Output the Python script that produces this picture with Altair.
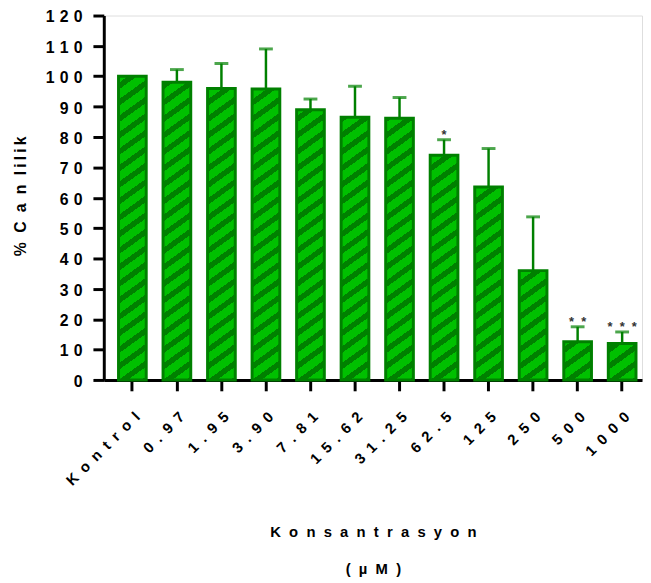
import math
import altair as alt
import pandas as pd

# ---- data ----
categories = ["Kontrol", "0.97", "1.95", "3.90", "7.81", "15.62", "31.25",
              "62.5", "125", "250", "500", "1000"]
means = [100, 98, 96, 95.8, 89, 86.5, 86.2, 74, 63.5, 36, 12.6, 12]
upper = [100, 102.2, 104.2, 109, 92.5, 96.7, 93, 79.1, 76.2, 53.7, 17.5, 15.8]
stars = ["", "", "", "", "", "", "", "*", "", "", "*\u00a0\u00a0*", "*\u00a0\u00a0*\u00a0\u00a0*"]

# ---- style / geometry ----
W, H = 545, 369
YMAX = 120
PX = H / YMAX
PAD_IN, PAD_OUT = 0.378, 0.233
STEP = W / (len(categories) - PAD_IN + 2 * PAD_OUT)
BAR_W = STEP * (1 - PAD_IN)
LIGHT = "#00c000"
DARK = "#008000"
PV = 16.7        # vertical stripe period (px)
SLOPE = 0.72     # stripe rise per run
DARK_FRAC = 0.4
FONT = "Liberation Sans"
SP2 = "\u00a0\u00a0"
WIDE = "\u2002\u200a"
NARROW = "\u2009"


def spaced(s, sep):
    return sep.join(list(s))


def stripe_gradient(value):
    h = value * PX
    w = BAR_W
    m = SLOPE
    S = m * w + h
    t = S / ((m * w) ** 2 + h ** 2)

    def color_at(s):
        q = ((s - h) / PV) % 1.0
        return DARK if q < DARK_FRAC else LIGHT

    stops = [{"offset": 0, "color": color_at(0)}]
    bounds = []
    kmin = math.floor(-h / PV) - 1
    kmax = math.ceil((S - h) / PV) + 1
    for k in range(kmin, kmax + 1):
        for frac in (0.0, DARK_FRAC):
            s = h + (k + frac) * PV
            if 0 < s < S:
                bounds.append(s)
    bounds.sort()
    for s in bounds:
        off = round(s / S, 5)
        stops.append({"offset": off, "color": color_at(s - 1e-6)})
        stops.append({"offset": off, "color": color_at(s + 1e-6)})
    stops.append({"offset": 1, "color": color_at(S)})
    return {"gradient": "linear", "x1": 0, "y1": 0,
            "x2": t * m * w, "y2": t * h, "stops": stops}


df = pd.DataFrame({
    "cat": categories,
    "mean": means,
    "upper": upper,
    "star": stars,
})
df["grad"] = [stripe_gradient(v) for v in means]

ytitle = "%" + WIDE + "C" + WIDE + "a" + WIDE + "n" + WIDE + spaced("lilik", NARROW)

xaxis = alt.Axis(
    title=[spaced("Konsantrasyon", SP2), spaced("(µM)", SP2)],
    titleFont=FONT, titleFontSize=15, titleFontWeight="bold", titleColor="black",
    titleX=W / 2, titleY=159, titleAlign="center", titleBaseline="alphabetic",
    titleLineHeight=37, titleAngle=0,
    labelAngle=-45, labelAlign="right", labelBaseline="middle",
    labelFont=FONT, labelFontSize=15, labelFontWeight="bold", labelColor="black",
    labelPadding=23.5, labelOffset=5, labelOverlap=False,
    labelExpr="join(split(datum.label, ''), '\u2002')",
    domainColor="black", domainWidth=3,
    tickColor="black", tickWidth=3, tickSize=11,
    grid=False,
)
yaxis = alt.Axis(
    title=ytitle,
    titleFont=FONT, titleFontSize=16, titleFontWeight="bold", titleColor="black",
    titleX=-84, titleY=H / 2 - 2, titleAngle=270, titleAlign="center",
    titleBaseline="middle",
    values=list(range(0, 121, 10)),
    labelFont=FONT, labelFontSize=16, labelFontWeight="bold", labelColor="black",
    labelPadding=11, labelBaseline="middle", labelOffset=1.5, labelOverlap=False,
    labelFlush=False,
    labelExpr="join(split(datum.label, ''), '\u2004')",
    domainColor="black", domainWidth=3,
    tickColor="black", tickWidth=3, tickSize=11,
    grid=False,
)

xenc = alt.X(
    "cat:N", sort=categories,
    scale=alt.Scale(paddingInner=PAD_IN, paddingOuter=PAD_OUT, align=0.71),
    axis=xaxis,
)
yscale = alt.Scale(domain=[0, YMAX], nice=False, zero=True)

bars = alt.Chart(df).mark_bar(stroke=DARK, strokeWidth=3).encode(
    x=xenc,
    y=alt.Y("mean:Q", scale=yscale, stack=None, axis=yaxis),
    fill=alt.Fill("grad:N", scale=None),
)

err_base = alt.Chart(df).transform_filter("datum.upper > datum.mean")

err_rule = err_base.mark_rule(color=DARK, strokeWidth=2.5).encode(
    x=xenc,
    y=alt.Y("mean:Q", scale=yscale, axis=yaxis),
    y2="upper:Q",
)
err_cap = err_base.mark_tick(color=DARK, thickness=3, size=14, orient="horizontal").encode(
    x=xenc,
    y=alt.Y("upper:Q", scale=yscale, axis=yaxis),
)
star_text = alt.Chart(df).transform_filter("datum.star != ''").mark_text(
    font=FONT, fontSize=13, fontWeight="bold", color="#333333",
    baseline="alphabetic", dy=-1,
).encode(
    x=xenc,
    y=alt.Y("upper:Q", scale=yscale, axis=yaxis),
    text="star:N",
)

chart = alt.layer(err_rule, err_cap, bars, star_text).properties(
    width=W, height=H,
    autosize=alt.AutoSizeParams(type="none"),
    padding={"left": 97, "top": 4, "right": 1, "bottom": 202},
).configure_view(stroke=None).configure(background="white")

chart.save("out.html", embed_options={"renderer": "svg", "actions": False})
